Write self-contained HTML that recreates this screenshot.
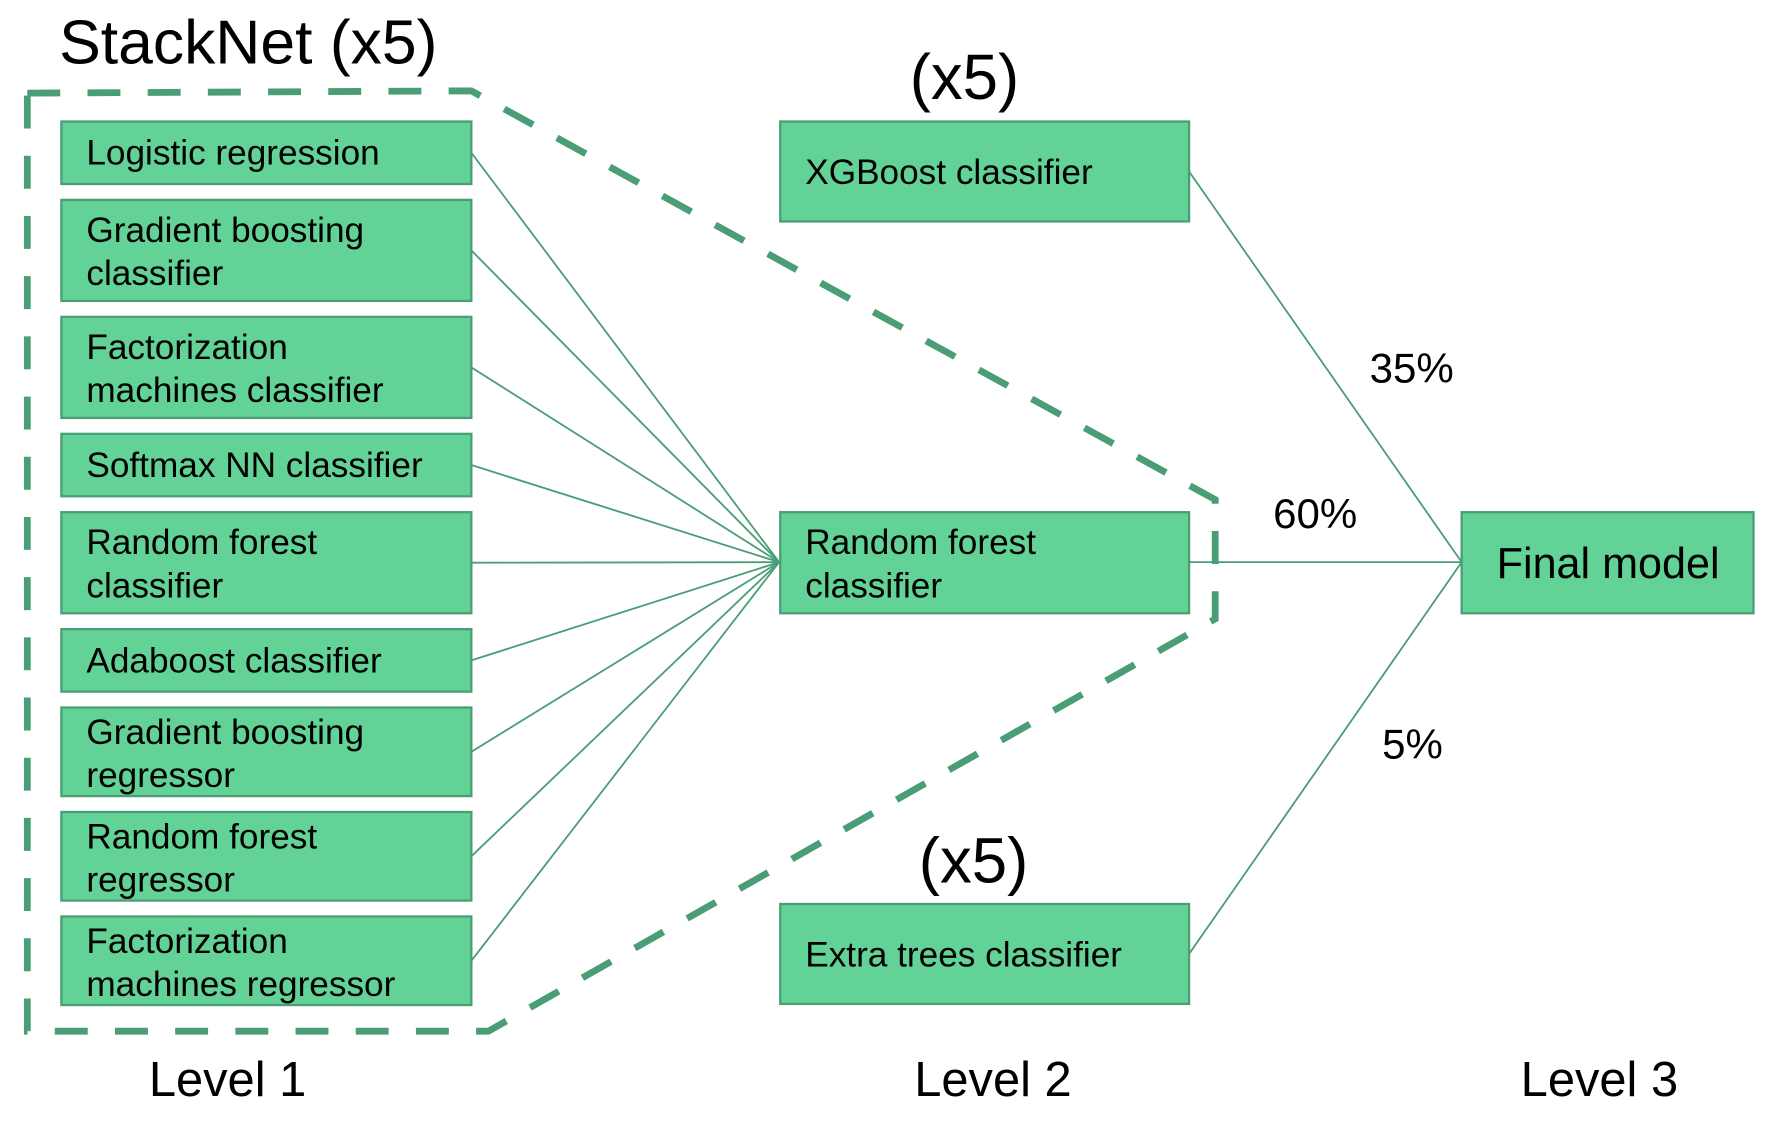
<!DOCTYPE html>
<html><head><meta charset="utf-8"><style>
html,body{margin:0;padding:0;background:#fff;}
svg{display:block;}
text{font-family:"Liberation Sans",Arial,sans-serif;fill:#000;}
</style></head><body>
<svg width="1774" height="1126" viewBox="0 0 1562 991.5" xmlns="http://www.w3.org/2000/svg">
<g stroke="#4a9e75" stroke-width="1.6" fill="none">
<line x1="415" y1="134.5" x2="686" y2="495"/>
<line x1="415" y1="220.5" x2="686" y2="495"/>
<line x1="415" y1="323.5" x2="686" y2="495"/>
<line x1="415" y1="409.5" x2="686" y2="495"/>
<line x1="415" y1="495.5" x2="686" y2="495"/>
<line x1="415" y1="581.5" x2="686" y2="495"/>
<line x1="415" y1="662" x2="686" y2="495"/>
<line x1="415" y1="754" x2="686" y2="495"/>
<line x1="415" y1="846" x2="686" y2="495"/>
<line x1="1047" y1="151" x2="1287" y2="495"/>
<line x1="1047" y1="495" x2="1287" y2="495"/>
<line x1="1047" y1="840" x2="1287" y2="495"/>
</g>
<path d="M24 82 L415 80 L1070 440 L1070 545 L430 908 L24 908 Z" fill="none" stroke="#4a9e75" stroke-width="6" stroke-dasharray="29 24"/>
<g fill="#63d297" stroke="#4a9e75" stroke-width="2">
<rect x="54" y="107" width="361" height="55"/>
<rect x="54" y="176" width="361" height="89"/>
<rect x="54" y="279" width="361" height="89"/>
<rect x="54" y="382" width="361" height="55"/>
<rect x="54" y="451" width="361" height="89"/>
<rect x="54" y="554" width="361" height="55"/>
<rect x="54" y="623" width="361" height="78"/>
<rect x="54" y="715" width="361" height="78"/>
<rect x="54" y="807" width="361" height="78"/>
<rect x="687" y="107" width="360" height="88"/>
<rect x="687" y="451" width="360" height="89"/>
<rect x="687" y="796" width="360" height="88"/>
<rect x="1287" y="451" width="257" height="89"/>
</g>
<g font-size="31">
<text x="76" y="145">Logistic regression</text>
<text x="76" y="213">Gradient boosting</text><text x="76" y="251">classifier</text>
<text x="76" y="316">Factorization</text><text x="76" y="354">machines classifier</text>
<text x="76" y="420">Softmax NN classifier</text>
<text x="76" y="488">Random forest</text><text x="76" y="526">classifier</text>
<text x="76" y="592">Adaboost classifier</text>
<text x="76" y="655">Gradient boosting</text><text x="76" y="693">regressor</text>
<text x="76" y="747">Random forest</text><text x="76" y="785">regressor</text>
<text x="76" y="839">Factorization</text><text x="76" y="877">machines regressor</text>
<text x="709" y="162">XGBoost classifier</text>
<text x="709" y="488">Random forest</text><text x="709" y="526">classifier</text>
<text x="709" y="851">Extra trees classifier</text>
</g>
<text x="1416" y="509" font-size="38" text-anchor="middle">Final model</text>
<text x="52" y="56" font-size="55">StackNet (x5)</text>
<text x="801" y="87" font-size="56">(x5)</text>
<text x="809" y="777" font-size="56">(x5)</text>
<g font-size="37">
<text x="1206" y="337">35%</text>
<text x="1121" y="465">60%</text>
<text x="1217" y="668">5%</text>
</g>
<g font-size="43">
<text x="131" y="965">Level 1</text>
<text x="805" y="965">Level 2</text>
<text x="1339" y="965">Level 3</text>
</g>
</svg>
</body></html>
